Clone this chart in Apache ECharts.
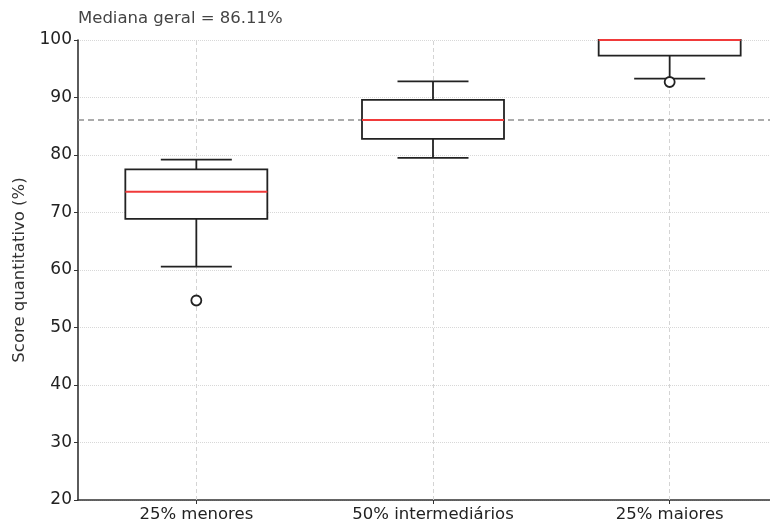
<!DOCTYPE html>
<html>
<head>
<meta charset="utf-8">
<script src="https://cdn.jsdelivr.net/npm/echarts@6/dist/echarts.min.js"></script>
<style>
  html, body { margin: 0; padding: 0; background: #fff; }
  #chart { width: 770px; height: 520px; }
</style>
</head>
<body>
<div id="chart"></div>
<script>
// Score groups and their box statistics (%)
const categories = ['25% menores', '50% intermediários', '25% maiores'];
const whiskerLow = [60.6, 79.5, 93.3];
const q1 = [68.9, 82.8, 97.3];
const median = [73.6, 86.1, 100];
const q3 = [77.5, 89.6, 100];
const whiskerHigh = [79.2, 92.8, 100];
// outliers as [group index, value]
const outliers = [[0, 54.7], [2, 92.7]];
const overallMedian = 86.11;
const yMin = 20, yMax = 100, yStep = 10;

const FONT = 'DejaVu Sans';
const INK = '#222';

const boxData = categories.map((c, i) =>
  [i, whiskerLow[i], q1[i], median[i], q3[i], whiskerHigh[i]]);

function renderBox(params, api) {
  const i = api.value(0);
  const band = api.size([1, 0])[0];
  const boxW = band * 0.6;
  const capW = band * 0.30;
  const pLow = api.coord([i, api.value(1)]);
  const pQ1 = api.coord([i, api.value(2)]);
  const pMed = api.coord([i, api.value(3)]);
  const pQ3 = api.coord([i, api.value(4)]);
  const pHigh = api.coord([i, api.value(5)]);
  const x = pMed[0];
  const line = (x1, y1, x2, y2, stroke, w) => ({
    type: 'line',
    shape: { x1, y1, x2, y2 },
    style: { stroke, lineWidth: w }
  });
  return {
    type: 'group',
    children: [
      line(x, pQ3[1], x, pHigh[1], INK, 1.8),
      line(x, pQ1[1], x, pLow[1], INK, 1.8),
      line(x - capW / 2, pHigh[1], x + capW / 2, pHigh[1], INK, 1.8),
      line(x - capW / 2, pLow[1], x + capW / 2, pLow[1], INK, 1.8),
      {
        type: 'rect',
        shape: { x: x - boxW / 2, y: pQ3[1], width: boxW, height: pQ1[1] - pQ3[1] },
        style: { fill: '#fff', stroke: INK, lineWidth: 1.8 }
      },
      line(x - boxW / 2, pMed[1], x + boxW / 2, pMed[1], '#f03a3a', 2)
    ]
  };
}

const chart = echarts.init(document.getElementById('chart'), null, { renderer: 'canvas' });
chart.setOption({
  animation: false,
  backgroundColor: '#fff',
  textStyle: { fontFamily: FONT },
  grid: { left: 78, width: 710, top: 40, height: 460, containLabel: false, outerBoundsMode: 'none' },
  graphic: [{
    type: 'text',
    left: 78,
    top: 10,
    style: { text: 'Mediana geral = 86.11%', font: '16.5px "DejaVu Sans"', fill: '#444' }
  }],
  xAxis: {
    type: 'category',
    data: categories,
    boundaryGap: true,
    axisLine: { show: true, lineStyle: { color: '#333', width: 1.6 } },
    axisTick: { show: true, alignWithLabel: true, length: 4, lineStyle: { color: '#333' } },
    axisLabel: { fontSize: 16.5, color: '#222', margin: 6, fontFamily: FONT },
    splitLine: { show: false }
  },
  yAxis: {
    type: 'value',
    min: yMin,
    max: yMax,
    interval: yStep,
    name: 'Score quantitativo (%)',
    nameLocation: 'middle',
    nameGap: 46,
    nameTextStyle: { fontSize: 16.5, color: '#333', fontFamily: FONT },
    axisLine: { show: true, lineStyle: { color: '#333', width: 1.6 } },
    axisTick: { show: true, length: 4, lineStyle: { color: '#333' } },
    axisLabel: { fontSize: 17, color: '#222', margin: 6, fontFamily: FONT },
    splitLine: { show: true, lineStyle: { color: '#d8d8d8', type: 'dotted', width: 1 } }
  },
  series: [
    {
      // vertical guides at each group and the overall median reference
      type: 'line',
      data: [],
      z: 1,
      silent: true,
      markLine: {
        z: 1,
        silent: true,
        symbol: 'none',
        label: { show: false },
        data: [
          ...categories.map(c => ({ xAxis: c, lineStyle: { color: '#d4d4d4', type: [4, 3], width: 1 } })),
          { yAxis: overallMedian, lineStyle: { color: '#909090', type: [6, 4], width: 1.5 } }
        ]
      }
    },
    {
      type: 'custom',
      z: 3,
      clip: false,
      renderItem: renderBox,
      encode: { x: 0, y: [1, 2, 3, 4, 5] },
      data: boxData
    },
    {
      type: 'scatter',
      z: 4,
      symbol: 'circle',
      symbolSize: 10,
      itemStyle: { color: '#fff', borderColor: INK, borderWidth: 1.8, opacity: 1 },
      data: outliers
    }
  ]
});
</script>
</body>
</html>
